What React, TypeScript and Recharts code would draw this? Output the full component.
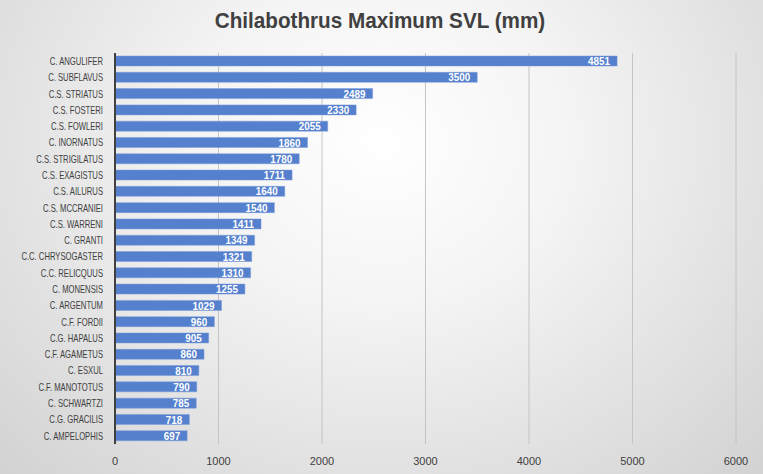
import { BarChart, Bar, XAxis, YAxis, CartesianGrid, LabelList } from 'recharts';

const species = [
  'C. ANGULIFER', 'C. SUBFLAVUS', 'C.S. STRIATUS', 'C.S. FOSTERI', 'C.S. FOWLERI', 'C. INORNATUS',
  'C.S. STRIGILATUS', 'C.S. EXAGISTUS', 'C.S. AILURUS', 'C.S. MCCRANIEI', 'C.S. WARRENI', 'C. GRANTI',
  'C.C. CHRYSOGASTER', 'C.C. RELICQUUS', 'C. MONENSIS', 'C. ARGENTUM', 'C.F. FORDII', 'C.G. HAPALUS',
  'C.F. AGAMETUS', 'C. ESXUL', 'C.F. MANOTOTUS', 'C. SCHWARTZI', 'C.G. GRACILIS', 'C. AMPELOPHIS',
];
const maxSvl = [
  4851, 3500, 2489, 2330, 2055, 1860, 1780, 1711, 1640, 1540, 1411, 1349,
  1321, 1310, 1255, 1029, 960, 905, 860, 810, 790, 785, 718, 697,
];
const xTicks = [0, 1000, 2000, 3000, 4000, 5000, 6000];

const data = species.map((name, i) => ({ name, svl: maxSvl[i] }));
const font = '"Liberation Sans", sans-serif';

// narrow the text a bit so it looks closer to Calibri
const SpeciesTick = (props: any) => {
  const { x, y, payload } = props;
  return (
    <g transform={`translate(${x - 4},${y})`}>
      <text transform="scale(0.73,1)" textAnchor="end" dy="0.36em" fontSize={10.5} fill="#404040" fontFamily={font}>
        {payload.value}
      </text>
    </g>
  );
};

const ValueLabel = (props: any) => {
  const { x, y, width, height, value } = props;
  return (
    <g transform={`translate(${x + width - 7},${y + height / 2})`}>
      <text transform="scale(0.86,1)" textAnchor="end" dy="0.36em" fontSize={11.5} fontWeight="bold" fill="#ffffff" fontFamily={font}>
        {value}
      </text>
    </g>
  );
};

export default function App() {
  return (
    <div
      style={{
        position: 'absolute',
        left: 0,
        top: 0,
        width: 763,
        height: 474,
        background: 'radial-gradient(ellipse at 50% 30%, #ffffff 0%, #f4f4f4 35%, #d2d2d2 100%)',
        fontFamily: font,
      }}
    >
      <div
        style={{
          position: 'absolute',
          top: 8,
          left: 0,
          width: 760,
          textAlign: 'center',
          fontSize: 22,
          fontWeight: 'bold',
          color: '#404040',
          transform: 'scaleX(0.94)',
        }}
      >
        Chilabothrus Maximum SVL (mm)
      </div>
      <BarChart
        width={763}
        height={474}
        data={data}
        layout="vertical"
        margin={{ top: 53, right: 27, bottom: 0, left: 5 }}
        barCategoryGap={3}
      >
        <CartesianGrid horizontal={false} stroke="#c4c4c4" />
        <XAxis
          type="number"
          domain={[0, 6000]}
          ticks={xTicks}
          axisLine={false}
          tickLine={false}
          height={30}
          tick={{ fontSize: 11, fill: '#404040', fontFamily: font, dy: 5 }}
        />
        <YAxis
          dataKey="name"
          type="category"
          width={110}
          axisLine={{ stroke: '#404040', strokeWidth: 2 }}
          tickLine={false}
          interval={0}
          tick={<SpeciesTick />}
        />
        <Bar dataKey="svl" fill="#5580cd" stroke="#7c9ad8" strokeWidth={0.5} barSize={10} isAnimationActive={false}>
          <LabelList dataKey="svl" content={<ValueLabel />} />
        </Bar>
      </BarChart>
    </div>
  );
}
